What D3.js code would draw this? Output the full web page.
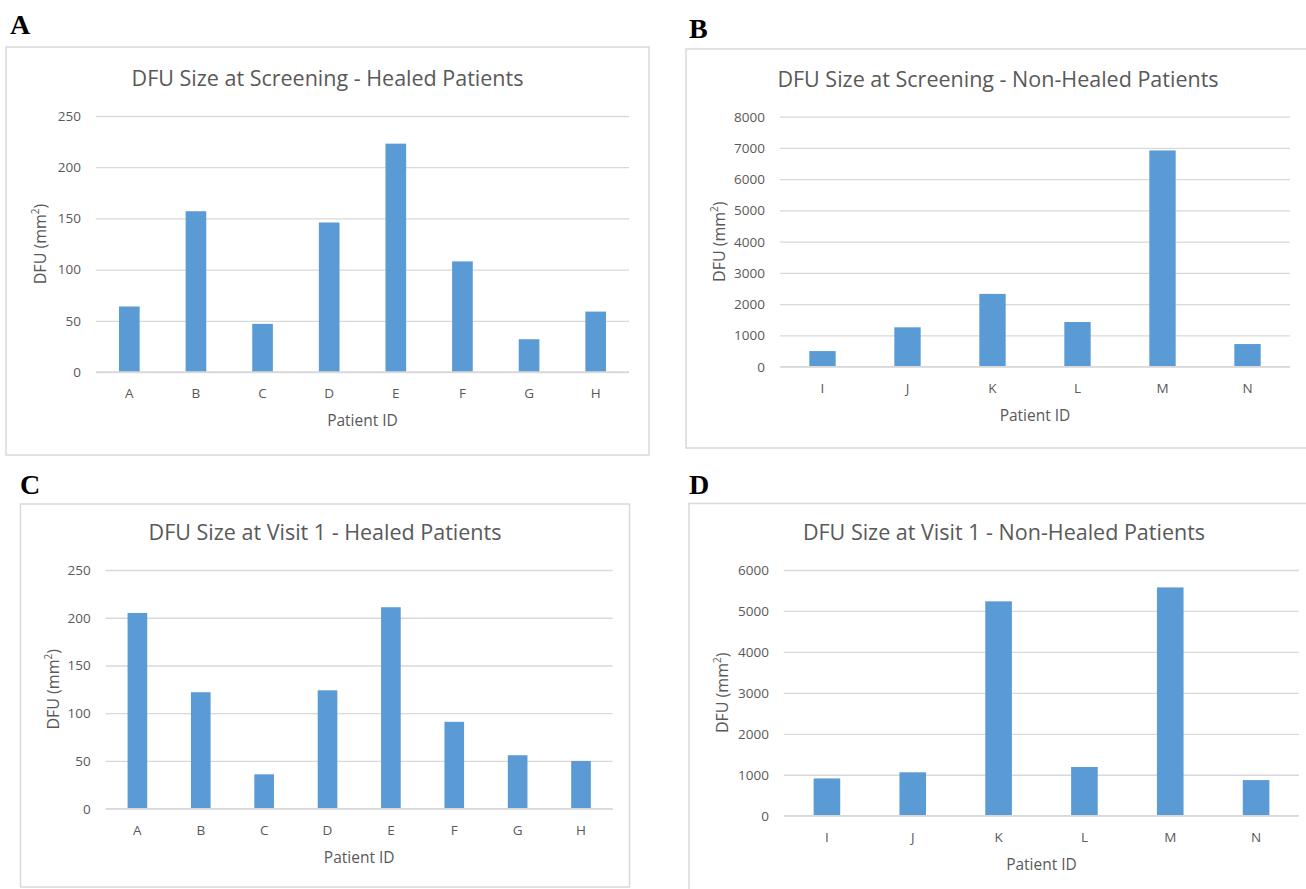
<!DOCTYPE html>
<html>
<head>
<meta charset="utf-8">
<script src="https://cdn.jsdelivr.net/npm/d3@7"></script>
<style>
  body { margin: 0; background: #fff; }
  svg { display: block; }
  text { font-family: "Open Sans", sans-serif; fill: #595959; }
  .letter { font-family: "Liberation Serif", "Times New Roman", serif; font-weight: bold; fill: #000; font-size: 28px; }
</style>
</head>
<body>
<svg id="fig" width="1306" height="889"></svg>
<script>
// patient ids
var healedIds = ["A", "B", "C", "D", "E", "F", "G", "H"]
var nonHealedIds = ["I", "J", "K", "L", "M", "N"]

// DFU size, mm^2
var screeningHealed = [64, 157, 47, 146, 223, 108, 32, 59]
var screeningNonHealed = [500, 1260, 2330, 1430, 6920, 725]
var visit1Healed = [205, 122, 36, 124, 211, 91, 56, 50]
var visit1NonHealed = [910, 1060, 5235, 1190, 5575, 870]

// y-axis ticks
var healedTicks = [0, 50, 100, 150, 200, 250]
var screeningNonHealedTicks = [0, 1000, 2000, 3000, 4000, 5000, 6000, 7000, 8000]
var visit1NonHealedTicks = [0, 1000, 2000, 3000, 4000, 5000, 6000]

var titles = [
  "DFU Size at Screening - Healed Patients",
  "DFU Size at Screening - Non-Healed Patients",
  "DFU Size at Visit 1 - Healed Patients",
  "DFU Size at Visit 1 - Non-Healed Patients"
]

var svg = d3.select("#fig")

// frame = [x, y, w, h]; B and D run off the page edge as in the figure
var panels = [
  { letter: "A", lx: 10, ly: 34, frame: [6, 47, 643, 408],
    x0: 96, x1: 629, top: 116, bot: 372, ylab: 40,
    ids: healedIds, values: screeningHealed, ticks: healedTicks, title: titles[0] },
  { letter: "B", lx: 689, ly: 38, frame: [686, 49, 624, 399],
    x0: 780, x1: 1290, top: 116.7, bot: 366.7, ylab: 719,
    ids: nonHealedIds, values: screeningNonHealed, ticks: screeningNonHealedTicks, title: titles[1] },
  { letter: "C", lx: 20, ly: 494, frame: [20.5, 504, 609, 383],
    x0: 105.7, x1: 612.7, top: 570, bot: 808.7, ylab: 53,
    ids: healedIds, values: visit1Healed, ticks: healedTicks, title: titles[2] },
  { letter: "D", lx: 689, ly: 494, frame: [689, 503.5, 630, 420],
    x0: 784, x1: 1299, top: 570, bot: 815.7, ylab: 722,
    ids: nonHealedIds, values: visit1NonHealed, ticks: visit1NonHealedTicks, title: titles[3] }
]

panels.forEach(draw_panel)

function draw_panel(p) {
  svg.append("text")
      .attr("class", "letter")
      .attr("x", p.lx)
      .attr("y", p.ly)
      .text(p.letter)

  svg.append("rect")
      .attr("x", p.frame[0])
      .attr("y", p.frame[1])
      .attr("width", p.frame[2])
      .attr("height", p.frame[3])
      .style("fill", "none")
      .style("stroke", "#d9d9d9")
      .style("stroke-width", 1.5)

  var x = d3.scaleBand()
      .domain(p.ids)
      .range([p.x0, p.x1])
      .paddingInner(0.69)
      .paddingOuter(0.345)

  var y = d3.scaleLinear()
      .domain([0, d3.max(p.ticks)])
      .range([p.bot, p.top])

  var g = svg.append("g")

  // gridlines + tick labels (negative tick size draws lines to the right)
  var yAxis = d3.axisLeft(y)
      .tickValues(p.ticks)
      .tickSize(p.x0 - p.x1)
      .tickPadding(15)
      .tickFormat(d3.format("d"))

  g.append("g")
      .attr("transform", "translate(" + p.x0 + ",0)")
      .call(yAxis)
      .call(function(a) {
        a.select(".domain").remove()
        a.selectAll("line")
            .style("stroke", "#d9d9d9")
            .style("stroke-width", 1.3)
        a.selectAll("text")
            .style("font-size", "13.5px")
            .style("fill", "#595959")
            .attr("font-family", null)
      })

  g.selectAll(".bar")
      .data(p.values).enter()
        .append("rect")
          .classed("bar", true)
          .attr("x", function(d, i) { return x(p.ids[i]) })
          .attr("width", x.bandwidth())
          .attr("y", function(d) { return y(d) })
          .attr("height", function(d) { return y(0) - y(d) })
          .style("fill", "#5b9bd5")

  // baseline over the bars
  g.append("line")
      .attr("x1", p.x0).attr("x2", p.x1)
      .attr("y1", y(0)).attr("y2", y(0))
      .style("stroke", "#d9d9d9")
      .style("stroke-width", 1.5)

  var xAxis = d3.axisBottom(x).tickSize(0).tickPadding(0)
  g.append("g")
      .attr("transform", "translate(0," + p.bot + ")")
      .call(xAxis)
      .call(function(a) {
        a.select(".domain").remove()
        a.selectAll("text")
            .attr("dy", null)
            .attr("y", 26)
            .style("font-size", "13.5px")
            .style("fill", "#595959")
            .attr("font-family", null)
      })

  // title is centred on the chart frame, axis title on the plot
  g.append("text")
      .attr("x", p.frame[0] + p.frame[2] / 2)
      .attr("y", p.top - 30)
      .attr("text-anchor", "middle")
      .style("font-size", "21.5px")
      .text(p.title)

  g.append("text")
      .attr("x", (p.x0 + p.x1) / 2)
      .attr("y", p.bot + 54)
      .attr("text-anchor", "middle")
      .style("font-size", "15.5px")
      .text("Patient ID")

  var ylab = g.append("text")
      .attr("transform", "translate(" + p.ylab + "," + (p.top + p.bot) / 2 + ") rotate(-90)")
      .attr("text-anchor", "middle")
      .attr("dy", "0.35em")
      .style("font-size", "16px")
  ylab.append("tspan").text("DFU (mm")
  ylab.append("tspan").attr("baseline-shift", "super").style("font-size", "10px").text("2")
  ylab.append("tspan").text(")")
}
</script>
</body>
</html>
